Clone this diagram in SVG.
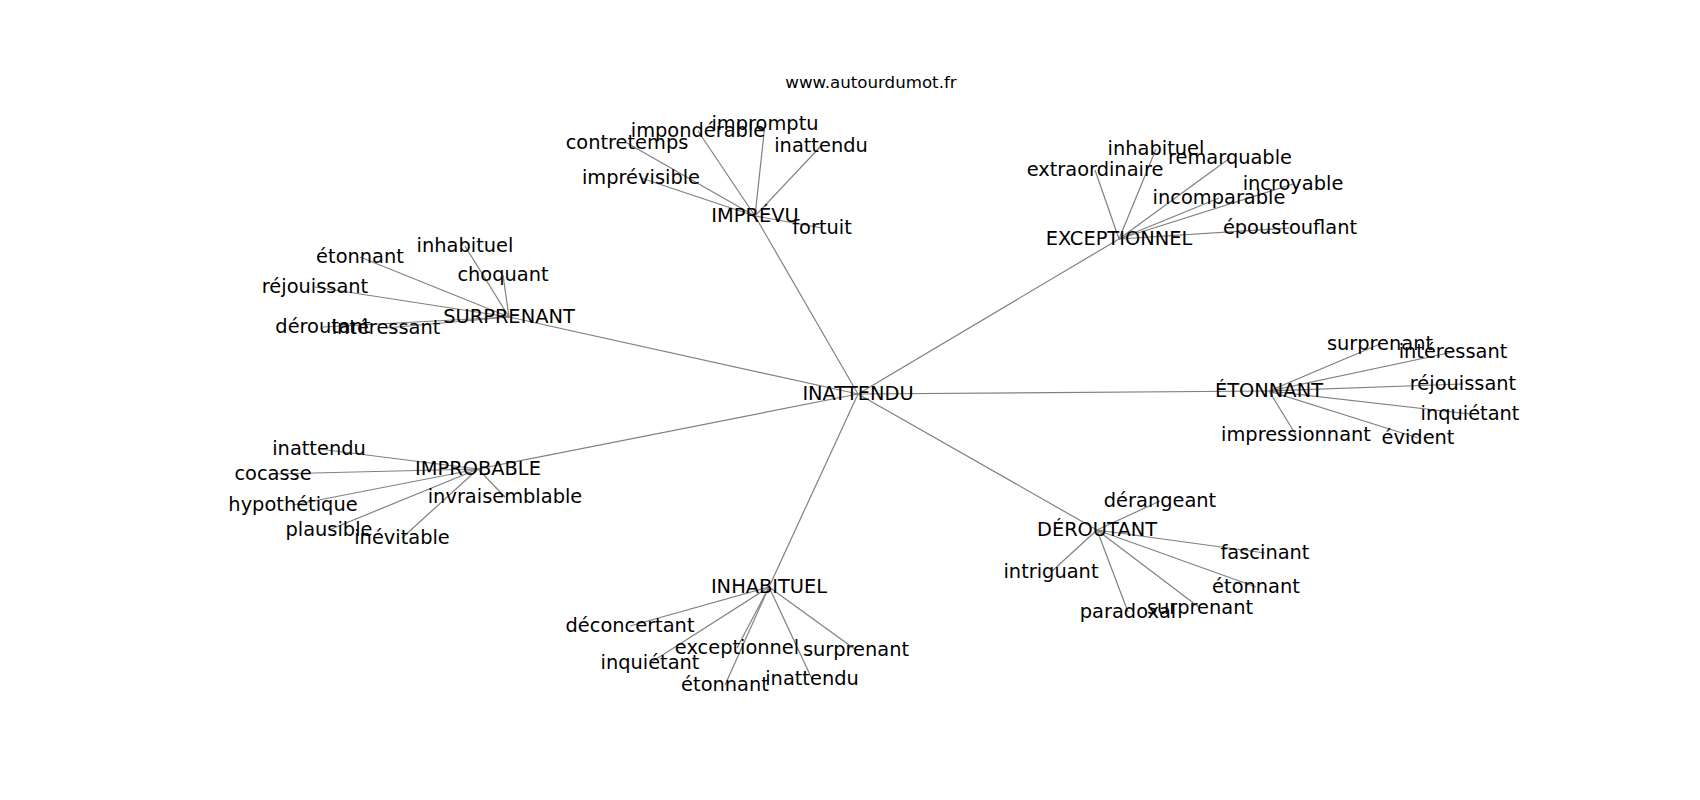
<svg xmlns="http://www.w3.org/2000/svg" width="1700" height="800" viewBox="0 0 1700 800">
<style>
.e{stroke:#808080;stroke-width:1.2;fill:none}
.t{font-family:"DejaVu Sans",sans-serif;font-size:19.4px;fill:#000;text-anchor:middle}
.title{font-family:"DejaVu Sans",sans-serif;font-size:16.67px;fill:#000;text-anchor:middle}
</style>
<rect width="1700" height="800" fill="#fff"/>
<text class="title" x="871" y="88">www.autourdumot.fr</text>
<g id="connectors">
<line class="e" x1="858" y1="394" x2="755" y2="216"/>
<line class="e" x1="858" y1="394" x2="1119" y2="239"/>
<line class="e" x1="858" y1="394" x2="509" y2="317"/>
<line class="e" x1="858" y1="394" x2="1269" y2="391"/>
<line class="e" x1="858" y1="394" x2="478" y2="469"/>
<line class="e" x1="858" y1="394" x2="769" y2="587"/>
<line class="e" x1="858" y1="394" x2="1097" y2="530"/>
<line class="e" x1="755" y1="216" x2="627" y2="143"/>
<line class="e" x1="755" y1="216" x2="698" y2="131"/>
<line class="e" x1="755" y1="216" x2="765" y2="124"/>
<line class="e" x1="755" y1="216" x2="821" y2="146"/>
<line class="e" x1="755" y1="216" x2="641" y2="178"/>
<line class="e" x1="755" y1="216" x2="822" y2="228"/>
<line class="e" x1="1119" y1="239" x2="1095" y2="170"/>
<line class="e" x1="1119" y1="239" x2="1156" y2="149"/>
<line class="e" x1="1119" y1="239" x2="1230" y2="158"/>
<line class="e" x1="1119" y1="239" x2="1293" y2="184"/>
<line class="e" x1="1119" y1="239" x2="1219" y2="198"/>
<line class="e" x1="1119" y1="239" x2="1290" y2="228"/>
<line class="e" x1="509" y1="317" x2="465" y2="246"/>
<line class="e" x1="509" y1="317" x2="360" y2="257"/>
<line class="e" x1="509" y1="317" x2="503" y2="275"/>
<line class="e" x1="509" y1="317" x2="315" y2="287"/>
<line class="e" x1="509" y1="317" x2="323" y2="327"/>
<line class="e" x1="509" y1="317" x2="386" y2="328"/>
<line class="e" x1="1269" y1="391" x2="1380" y2="344"/>
<line class="e" x1="1269" y1="391" x2="1453" y2="352"/>
<line class="e" x1="1269" y1="391" x2="1463" y2="384"/>
<line class="e" x1="1269" y1="391" x2="1470" y2="414"/>
<line class="e" x1="1269" y1="391" x2="1418" y2="438"/>
<line class="e" x1="1269" y1="391" x2="1296" y2="435"/>
<line class="e" x1="478" y1="469" x2="319" y2="449"/>
<line class="e" x1="478" y1="469" x2="273" y2="474"/>
<line class="e" x1="478" y1="469" x2="293" y2="505"/>
<line class="e" x1="478" y1="469" x2="505" y2="497"/>
<line class="e" x1="478" y1="469" x2="329" y2="530"/>
<line class="e" x1="478" y1="469" x2="402" y2="538"/>
<line class="e" x1="769" y1="587" x2="630" y2="626"/>
<line class="e" x1="769" y1="587" x2="737" y2="648"/>
<line class="e" x1="769" y1="587" x2="650" y2="663"/>
<line class="e" x1="769" y1="587" x2="856" y2="650"/>
<line class="e" x1="769" y1="587" x2="725" y2="685"/>
<line class="e" x1="769" y1="587" x2="812" y2="679"/>
<line class="e" x1="1097" y1="530" x2="1160" y2="501"/>
<line class="e" x1="1097" y1="530" x2="1051" y2="572"/>
<line class="e" x1="1097" y1="530" x2="1265" y2="553"/>
<line class="e" x1="1097" y1="530" x2="1256" y2="587"/>
<line class="e" x1="1097" y1="530" x2="1200" y2="608"/>
<line class="e" x1="1097" y1="530" x2="1128" y2="612"/>
</g>
<g id="n-inattendu"><text class="t" x="858" y="400">INATTENDU</text></g>
<g id="n-imprevu"><text class="t" x="755" y="222">IMPRÉVU</text></g>
<g id="n-imprevu-contretemps"><text class="t" x="627" y="149">contretemps</text></g>
<g id="n-imprevu-imponderable"><text class="t" x="698" y="137">impondérable</text></g>
<g id="n-imprevu-impromptu"><text class="t" x="765" y="130">impromptu</text></g>
<g id="n-imprevu-inattendu"><text class="t" x="821" y="152">inattendu</text></g>
<g id="n-imprevu-imprevisible"><text class="t" x="641" y="184">imprévisible</text></g>
<g id="n-imprevu-fortuit"><text class="t" x="822" y="234">fortuit</text></g>
<g id="n-exceptionnel"><text class="t" x="1119" y="245">EXCEPTIONNEL</text></g>
<g id="n-exc-extraordinaire"><text class="t" x="1095" y="176">extraordinaire</text></g>
<g id="n-exc-inhabituel"><text class="t" x="1156" y="155">inhabituel</text></g>
<g id="n-exc-remarquable"><text class="t" x="1230" y="164">remarquable</text></g>
<g id="n-exc-incroyable"><text class="t" x="1293" y="190">incroyable</text></g>
<g id="n-exc-incomparable"><text class="t" x="1219" y="204">incomparable</text></g>
<g id="n-exc-epoustouflant"><text class="t" x="1290" y="234">époustouflant</text></g>
<g id="n-surprenant"><text class="t" x="509" y="323">SURPRENANT</text></g>
<g id="n-sur-inhabituel"><text class="t" x="465" y="252">inhabituel</text></g>
<g id="n-sur-etonnant"><text class="t" x="360" y="263">étonnant</text></g>
<g id="n-sur-choquant"><text class="t" x="503" y="281">choquant</text></g>
<g id="n-sur-rejouissant"><text class="t" x="315" y="293">réjouissant</text></g>
<g id="n-sur-deroutant"><text class="t" x="323" y="333">déroutant</text></g>
<g id="n-sur-interessant"><text class="t" x="386" y="334">intéressant</text></g>
<g id="n-etonnant"><text class="t" x="1269" y="397">ÉTONNANT</text></g>
<g id="n-eto-surprenant"><text class="t" x="1380" y="350">surprenant</text></g>
<g id="n-eto-interessant"><text class="t" x="1453" y="358">intéressant</text></g>
<g id="n-eto-rejouissant"><text class="t" x="1463" y="390">réjouissant</text></g>
<g id="n-eto-inquietant"><text class="t" x="1470" y="420">inquiétant</text></g>
<g id="n-eto-evident"><text class="t" x="1418" y="444">évident</text></g>
<g id="n-eto-impressionnant"><text class="t" x="1296" y="441">impressionnant</text></g>
<g id="n-improbable"><text class="t" x="478" y="475">IMPROBABLE</text></g>
<g id="n-imp-inattendu"><text class="t" x="319" y="455">inattendu</text></g>
<g id="n-imp-cocasse"><text class="t" x="273" y="480">cocasse</text></g>
<g id="n-imp-hypothetique"><text class="t" x="293" y="511">hypothétique</text></g>
<g id="n-imp-invraisemblable"><text class="t" x="505" y="503">invraisemblable</text></g>
<g id="n-imp-plausible"><text class="t" x="329" y="536">plausible</text></g>
<g id="n-imp-inevitable"><text class="t" x="402" y="544">inévitable</text></g>
<g id="n-inhabituel"><text class="t" x="769" y="593">INHABITUEL</text></g>
<g id="n-inh-deconcertant"><text class="t" x="630" y="632">déconcertant</text></g>
<g id="n-inh-exceptionnel"><text class="t" x="737" y="654">exceptionnel</text></g>
<g id="n-inh-inquietant"><text class="t" x="650" y="669">inquiétant</text></g>
<g id="n-inh-surprenant"><text class="t" x="856" y="656">surprenant</text></g>
<g id="n-inh-etonnant"><text class="t" x="725" y="691">étonnant</text></g>
<g id="n-inh-inattendu"><text class="t" x="812" y="685">inattendu</text></g>
<g id="n-deroutant"><text class="t" x="1097" y="536">DÉROUTANT</text></g>
<g id="n-der-derangeant"><text class="t" x="1160" y="507">dérangeant</text></g>
<g id="n-der-intriguant"><text class="t" x="1051" y="578">intriguant</text></g>
<g id="n-der-fascinant"><text class="t" x="1265" y="559">fascinant</text></g>
<g id="n-der-etonnant"><text class="t" x="1256" y="593">étonnant</text></g>
<g id="n-der-surprenant"><text class="t" x="1200" y="614">surprenant</text></g>
<g id="n-der-paradoxal"><text class="t" x="1128" y="618">paradoxal</text></g>
</svg>
